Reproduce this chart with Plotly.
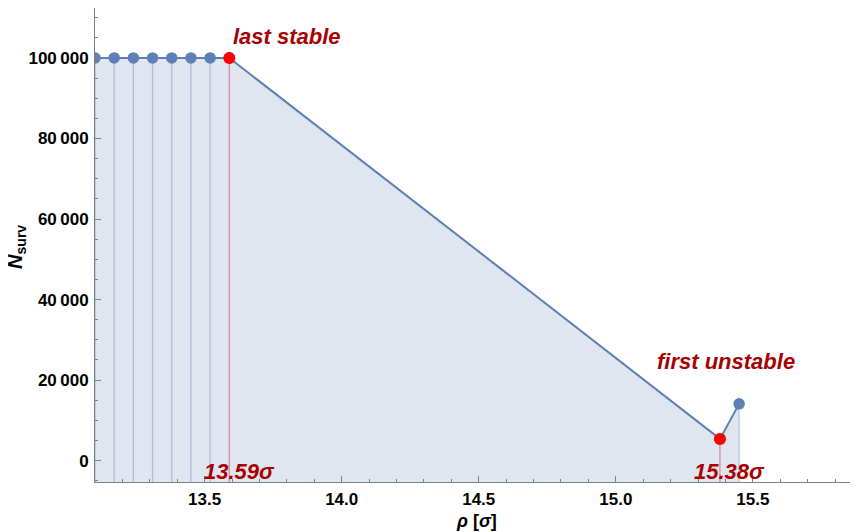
import plotly.graph_objects as go

# ---- data ----
rho = [13.10, 13.17, 13.24, 13.31, 13.38, 13.45, 13.52, 13.59, 15.38, 15.45]
n_surv = [100000, 100000, 100000, 100000, 100000, 100000, 100000, 100000, 5400, 14100]
last_stable_idx = 7
first_unstable_idx = 8

x_tickvals = [13.5, 14.0, 14.5, 15.0, 15.5]
x_ticktext = ["13.5", "14.0", "14.5", "15.0", "15.5"]
y_tickvals = [0, 20000, 40000, 60000, 80000, 100000]
y_ticktext = ["0", "20\u2009000", "40\u2009000", "60\u2009000", "80\u2009000", "100\u2009000"]

x_title = "<b><i>ρ</i> [<i>σ</i>]</b>"
y_title = "<b><i>N</i><sub>surv</sub></b>"

x_range = [13.10, 15.88]
y_range = [-5300, 112400]

LINE = "#5E81B5"
FILL = "rgba(94,129,181,0.2)"
STEM = "rgba(94,129,181,0.38)"
RED_STEM = "rgba(220,60,80,0.55)"
DARKRED = "#a80000"
FONT = "Liberation Sans"

ybase = y_range[0]
red_idx = [last_stable_idx, first_unstable_idx]

fig = go.Figure()

# filling to axis
fig.add_trace(go.Scatter(
    x=rho + [rho[-1], rho[0]],
    y=n_surv + [ybase, ybase],
    fill="toself", fillcolor=FILL, mode="lines", line=dict(width=0),
    hoverinfo="skip", showlegend=False))

# stems
sx, sy, rx, ry = [], [], [], []
for i, (xv, yv) in enumerate(zip(rho, n_surv)):
    if i in red_idx:
        rx += [xv, xv, None]; ry += [yv, ybase, None]
    else:
        sx += [xv, xv, None]; sy += [yv, ybase, None]
fig.add_trace(go.Scatter(x=sx, y=sy, mode="lines", line=dict(color=STEM, width=1.3),
                         hoverinfo="skip", showlegend=False))
fig.add_trace(go.Scatter(x=rx, y=ry, mode="lines", line=dict(color=RED_STEM, width=1.3),
                         hoverinfo="skip", showlegend=False))

# main line + points
fig.add_trace(go.Scatter(x=rho, y=n_surv, mode="lines+markers",
                         line=dict(color=LINE, width=2),
                         marker=dict(color=LINE, size=11.5),
                         showlegend=False))
fig.add_trace(go.Scatter(x=[rho[i] for i in red_idx], y=[n_surv[i] for i in red_idx],
                         mode="markers", marker=dict(color="#ff0000", size=12),
                         showlegend=False))

ann_font = dict(family=FONT, size=22, color=DARKRED)
xs, ys = rho[last_stable_idx], n_surv[last_stable_idx]
xu, yu = rho[first_unstable_idx], n_surv[first_unstable_idx]
fig.add_annotation(x=xs, y=ys, text="<b><i>last stable</i></b>", showarrow=False,
                   xanchor="left", yanchor="middle", xshift=2, yshift=21, font=ann_font)
fig.add_annotation(x=xu, y=yu, text="<b><i>first unstable</i></b>", showarrow=False,
                   xanchor="center", yanchor="middle", xshift=6, yshift=77, font=ann_font)
fig.add_annotation(x=xs, y=0, text=f"<b><i>{xs:.2f}σ</i></b>", showarrow=False,
                   xanchor="center", yanchor="middle", xshift=10, yshift=-11, font=ann_font)
fig.add_annotation(x=xu, y=0, text=f"<b><i>{xu:.2f}σ</i></b>", showarrow=False,
                   xanchor="center", yanchor="middle", xshift=10, yshift=-11, font=ann_font)

# axis titles
fig.add_annotation(xref="paper", yref="paper", x=0.5, y=-0.082, text=x_title,
                   showarrow=False, xanchor="center", yanchor="middle",
                   font=dict(family=FONT, size=18, color="black"))
fig.add_annotation(xref="paper", yref="paper", x=-0.103, y=0.495, text=y_title,
                   showarrow=False, xanchor="center", yanchor="middle", textangle=-90,
                   font=dict(family=FONT, size=20, color="black"))

axis_common = dict(
    showgrid=False, zeroline=False, showline=True, linecolor="#808080", linewidth=1,
    ticks="inside", ticklen=6, tickcolor="#808080", tickwidth=1, automargin=False,
    tickfont=dict(family=FONT, size=17, color="black", weight="bold"),
)
fig.update_xaxes(range=x_range, tickvals=x_tickvals, ticktext=x_ticktext,
                 minor=dict(dtick=0.1, ticks="inside", ticklen=3, tickcolor="#808080"),
                 ticklabelstandoff=2, **axis_common)
fig.update_yaxes(range=y_range, tickvals=y_tickvals, ticktext=y_ticktext,
                 minor=dict(dtick=5000, tick0=0, ticks="inside", ticklen=3, tickcolor="#808080"),
                 ticklabelstandoff=2, **axis_common)

# page body adds an 8px offset, so the figure is sized to fit the 858x532 window
fig.update_layout(
    width=850, height=524,
    margin=dict(l=87, r=1, t=0, b=50),
    paper_bgcolor="white", plot_bgcolor="white",
    showlegend=False,
)

fig.write_html("out.html")
